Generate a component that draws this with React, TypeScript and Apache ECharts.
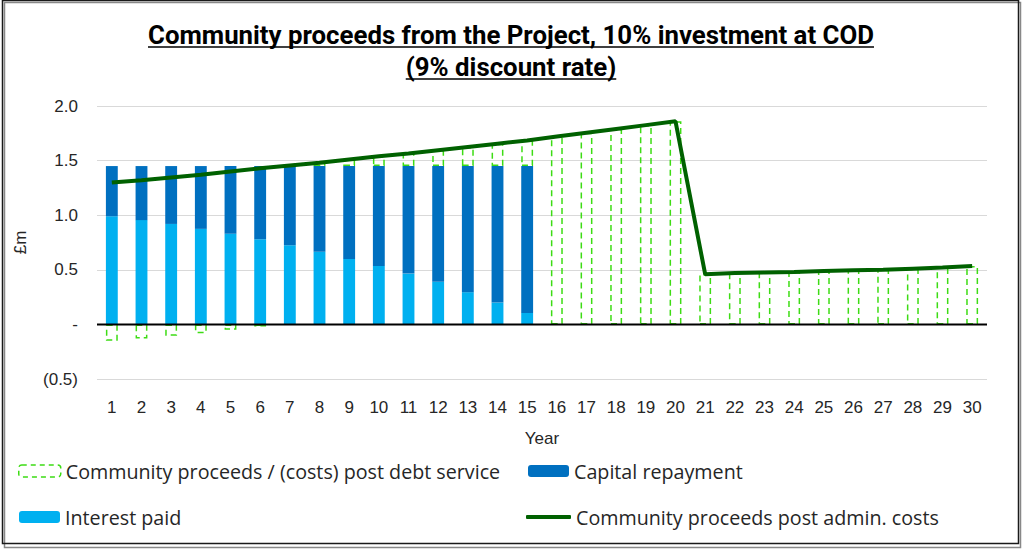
import React, { useEffect, useRef } from 'react';
import * as echarts from 'echarts';

// Year labels on the category axis
const years = [
  '1', '2', '3', '4', '5', '6', '7', '8', '9', '10',
  '11', '12', '13', '14', '15', '16', '17', '18', '19', '20',
  '21', '22', '23', '24', '25', '26', '27', '28', '29', '30',
];

// £m
const interestPaid = [
  0.99, 0.955, 0.92, 0.875, 0.83, 0.78, 0.725, 0.665, 0.6, 0.535,
  0.465, 0.39, 0.295, 0.2, 0.105, null, null, null, null, null,
  null, null, null, null, null, null, null, null, null, null,
];

const capitalRepayment = [
  0.46, 0.495, 0.53, 0.575, 0.62, 0.67, 0.725, 0.785, 0.85, 0.915,
  0.985, 1.06, 1.155, 1.25, 1.345, null, null, null, null, null,
  null, null, null, null, null, null, null, null, null, null,
];

const postDebtService = [
  -0.15, -0.13, -0.105, -0.08, -0.05, -0.02, 0.005, 0.03, 0.06, 0.09,
  0.115, 0.145, 0.175, 0.205, 0.235, 1.72, 1.755, 1.79, 1.825, 1.86,
  0.46, 0.47, 0.475, 0.48, 0.49, 0.495, 0.5, 0.51, 0.52, 0.535,
];

const postAdminCosts = [
  1.3, 1.32, 1.345, 1.37, 1.4, 1.43, 1.455, 1.48, 1.51, 1.54,
  1.565, 1.595, 1.625, 1.655, 1.685, 1.72, 1.755, 1.79, 1.825, 1.86,
  0.46, 0.47, 0.475, 0.48, 0.49, 0.495, 0.5, 0.51, 0.52, 0.535,
];

const titleLines = [
  'Community proceeds from the Project, 10% investment at COD',
  '(9% discount rate)',
];

const TITLE_FONT = 'bold 25.8px Roboto';
const LABEL_FONT = 'Liberation Sans';
const LEGEND_FONT = 'Open Sans';

const GRID = { left: 97, right: 37, top: 106, bottom: 171 };

const measure = (text: string, font: string) => {
  const ctx = document.createElement('canvas').getContext('2d');
  if (!ctx) return text.length * 12;
  ctx.font = font;
  return ctx.measureText(text).width;
};

const App = () => {
  const chartRef = useRef<HTMLDivElement>(null);

  useEffect(() => {
    document.body.style.margin = '0';
    const chart = echarts.init(chartRef.current, null, { renderer: 'svg' });

    // title with underline
    const titleGraphics: any[] = [];
    titleLines.forEach((line, i) => {
      const cy = 35 + i * 32;
      const w = measure(line, TITLE_FONT);
      titleGraphics.push({
        type: 'text',
        style: {
          text: line,
          x: 511,
          y: cy,
          align: 'center',
          verticalAlign: 'middle',
          font: TITLE_FONT,
          fill: '#000',
        },
      });
      titleGraphics.push({
        type: 'line',
        shape: { x1: 511 - w / 2, y1: cy + 12, x2: 511 + w / 2, y2: cy + 12 },
        style: { stroke: '#000', lineWidth: 1.5 },
      });
    });

    const legendBase = {
      orient: 'horizontal',
      padding: 0,
      itemHeight: 12,
      textStyle: { fontFamily: LEGEND_FONT, fontSize: 19.7, color: '#262626' },
    };

    const option = {
      animation: false,
      backgroundColor: '#fff',
      grid: GRID,
      legend: [
        {
          ...legendBase,
          left: 18,
          top: 461,
          itemWidth: 42,
          itemStyle: { borderType: [5, 4], borderWidth: 1.5 },
          data: ['Community proceeds / (costs) post debt service'],
        },
        { ...legendBase, left: 528, top: 461, itemWidth: 41, data: ['Capital repayment'] },
        { ...legendBase, left: 19, top: 507, itemWidth: 41, data: ['Interest paid'] },
        {
          ...legendBase,
          left: 526,
          top: 507,
          itemWidth: 45,
          itemHeight: 4,
          icon: 'roundRect',
          data: ['Community proceeds post admin. costs'],
        },
      ],
      xAxis: {
        type: 'category',
        data: years,
        name: 'Year',
        nameLocation: 'middle',
        nameGap: 51,
        nameTextStyle: { fontFamily: LABEL_FONT, fontSize: 17, color: '#262626' },
        axisLine: { show: false, onZero: false },
        axisTick: { show: false },
        axisLabel: { margin: 20, fontFamily: LABEL_FONT, fontSize: 17, color: '#262626' },
      },
      yAxis: {
        type: 'value',
        min: -0.5,
        max: 2,
        interval: 0.5,
        name: '£m',
        nameLocation: 'middle',
        nameGap: 68,
        nameTextStyle: { fontFamily: LABEL_FONT, fontSize: 17, color: '#262626' },
        axisLine: { show: false },
        axisTick: { show: false },
        splitLine: { lineStyle: { color: '#d9d9d9', width: 1 } },
        axisLabel: {
          margin: 19,
          fontFamily: LABEL_FONT,
          fontSize: 17,
          color: '#262626',
          formatter: (v: number) =>
            v === 0 ? '-' : v < 0 ? `(${Math.abs(v).toFixed(1)})` : v.toFixed(1),
        },
      },
      series: [
        {
          name: 'Interest paid',
          type: 'bar',
          stack: 'total',
          barWidth: '40%',
          itemStyle: { color: '#00b0f0' },
          data: interestPaid,
        },
        {
          name: 'Capital repayment',
          type: 'bar',
          stack: 'total',
          barWidth: '40%',
          itemStyle: { color: '#0070c0' },
          data: capitalRepayment,
        },
        {
          name: 'Community proceeds / (costs) post debt service',
          type: 'bar',
          stack: 'total',
          barWidth: '40%',
          itemStyle: {
            color: 'transparent',
            borderColor: '#3ddc14',
            borderWidth: 1.5,
            borderType: [6, 4],
          },
          data: postDebtService,
        },
        {
          name: 'Community proceeds post admin. costs',
          type: 'line',
          symbol: 'none',
          z: 5,
          lineStyle: { color: '#006100', width: 4 },
          itemStyle: { color: '#006100' },
          data: postAdminCosts,
        },
      ],
      graphic: [
        {
          type: 'rect',
          shape: { x: 4.5, y: 2.5, width: 1016, height: 545 },
          style: { fill: 'none', stroke: '#888', lineWidth: 1.5 },
        },
        {
          type: 'rect',
          shape: { x: 2.5, y: 0.5, width: 1016, height: 543 },
          style: { fill: 'none', stroke: '#1a1a1a', lineWidth: 1.5 },
        },
        ...titleGraphics,
      ],
    };

    chart.setOption(option);

    // black zero line over the bars, placed through the y scale
    const y0 = chart.convertToPixel({ yAxisIndex: 0 }, 0) as number;
    chart.setOption({
      graphic: [
        ...option.graphic,
        {
          type: 'line',
          z: 100,
          shape: { x1: GRID.left, y1: y0, x2: 1024 - GRID.right, y2: y0 },
          style: { stroke: '#000', lineWidth: 2 },
        },
      ],
    });

    return () => {
      chart.dispose();
    };
  }, []);

  return <div ref={chartRef} style={{ width: '1024px', height: '550px' }} />;
};

export default App;
